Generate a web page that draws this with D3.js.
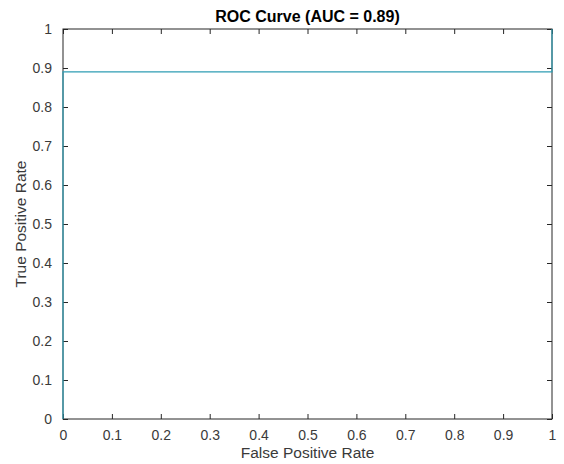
<!DOCTYPE html>
<html>
<head>
<meta charset="utf-8">
<script src="https://cdn.jsdelivr.net/npm/d3@7"></script>
<style>
  body { margin: 0; background: #fff; }
  svg text { font-family: "Liberation Sans", Arial, sans-serif; }
</style>
</head>
<body>
<div id="chart"></div>
<script>
// ROC points
var fpr = [0, 0, 1, 1];
var tpr = [0, 0.89, 0.89, 1];
var ticks = [0, 0.1, 0.2, 0.3, 0.4, 0.5, 0.6, 0.7, 0.8, 0.9, 1];
var auc = 0.89;

var margin = {top: 29, right: 12, bottom: 45, left: 63};
var width = 564 - margin.left - margin.right,
    height = 464 - margin.top - margin.bottom;

var svg = d3.select("#chart")
    .append("svg")
    .attr("width", 564)
    .attr("height", 464)
    .append("g")
    .attr("transform", "translate(" + margin.left + "," + margin.top + ")");

var xScale = d3.scaleLinear().domain([0, 1]).range([0, width]);
var yScale = d3.scaleLinear().domain([0, 1]).range([height, 0]);

var fmt = function(d) { return d3.format("")(+d.toFixed(1)); };

function styleAxis(g) {
    g.select(".domain").remove();
    g.selectAll("line").attr("stroke", "#262626");
    g.selectAll("text")
        .attr("fill", "#3a3a3a")
        .style("font-size", "14px");
}

// bottom / left with labels, ticks pointing inward
svg.append("g")
    .attr("transform", "translate(0," + height + ")")
    .call(d3.axisBottom(xScale).tickValues(ticks).tickSize(-5).tickPadding(11).tickFormat(fmt))
    .call(styleAxis);

svg.append("g")
    .call(d3.axisLeft(yScale).tickValues(ticks).tickSize(-5).tickPadding(11).tickFormat(fmt))
    .call(styleAxis);

// top / right ticks only
svg.append("g")
    .call(d3.axisTop(xScale).tickValues(ticks).tickSize(-5).tickFormat(""))
    .call(styleAxis);

svg.append("g")
    .attr("transform", "translate(" + width + ",0)")
    .call(d3.axisRight(yScale).tickValues(ticks).tickSize(-5).tickFormat(""))
    .call(styleAxis);

// box
svg.append("rect")
    .attr("width", width)
    .attr("height", height)
    .attr("fill", "none")
    .attr("stroke", "#262626")
    .attr("stroke-width", 1);

var line = d3.line()
    .x(function(d, i) { return xScale(fpr[i]); })
    .y(function(d, i) { return yScale(tpr[i]); });

svg.append("path")
    .datum(fpr)
    .attr("fill", "none")
    .attr("stroke", "#2f9db4")
    .attr("stroke-width", 1.2)
    .attr("d", line);

svg.append("text")
    .attr("x", width / 2)
    .attr("y", -7)
    .attr("text-anchor", "middle")
    .style("font-size", "16px")
    .style("font-weight", "bold")
    .attr("fill", "#000")
    .text("ROC Curve (AUC = " + auc + ")");

svg.append("text")
    .attr("x", width / 2)
    .attr("y", height + 39)
    .attr("text-anchor", "middle")
    .style("font-size", "15.5px")
    .attr("fill", "#3a3a3a")
    .text("False Positive Rate");

svg.append("text")
    .attr("transform", "rotate(-90)")
    .attr("x", -height / 2)
    .attr("y", -37)
    .attr("text-anchor", "middle")
    .style("font-size", "15.5px")
    .attr("fill", "#3a3a3a")
    .text("True Positive Rate");
</script>
</body>
</html>
